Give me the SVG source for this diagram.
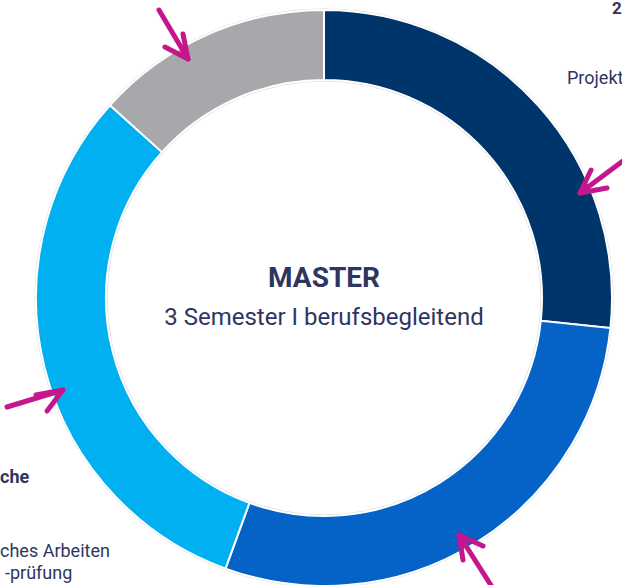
<svg xmlns="http://www.w3.org/2000/svg" width="622" height="585" viewBox="0 0 622 585">
<style>
.seg{stroke:#ffffff;stroke-width:2;stroke-linejoin:miter}
.outline{fill:none;stroke:#dcdcdc;stroke-width:1}
.t{font-family:Roboto,"Liberation Sans",sans-serif;fill:#2E3562}
.b{font-weight:bold}
.side{font-size:18px}
.arrow{fill:none;stroke:#C6168D;stroke-width:5;stroke-linecap:round;stroke-linejoin:round}
</style>
<rect width="622" height="585" fill="#ffffff"/>
<circle class="outline" cx="324" cy="298" r="289"/>
<circle class="outline" cx="324" cy="298" r="217"/>
<g id="seg-dark">
<path class="seg" fill="#00356B" d="M324,10 A288,288 0 0 1 610.42,328.10 L540.81,320.79 A218,218 0 0 0 324,80 Z"/>
</g>
<g id="seg-medium">
<path class="seg" fill="#0563C8" d="M610.42,328.10 A288,288 0 0 1 225.50,568.63 L249.44,502.85 A218,218 0 0 0 540.81,320.79 Z"/>
</g>
<g id="seg-light">
<path class="seg" fill="#00B0F0" d="M225.50,568.63 A288,288 0 0 1 109.98,105.29 L162.00,152.13 A218,218 0 0 0 249.44,502.85 Z"/>
</g>
<g id="seg-gray">
<path class="seg" fill="#A7A8AB" d="M109.98,105.29 A288,288 0 0 1 324,10 L324,80 A218,218 0 0 0 162.00,152.13 Z"/>
</g>
<g id="center">
<text class="t b" x="324" y="287" font-size="28" text-anchor="middle">MASTER</text>
<text class="t" x="324" y="325" font-size="24" text-anchor="middle">3 Semester I berufsbegleitend</text>
</g>
<g id="labels">
<text class="t b" x="612" y="13.5" font-size="17">2</text>
<text class="t side" x="567" y="84">Projekt</text>
<text class="t b side" x="0" y="483">che</text>
<text class="t side" x="0" y="557">ches Arbeiten</text>
<text class="t side" x="5" y="579">-prüfung</text>
</g>
<g id="connectors">
<polyline class="arrow" points="159,10 188,59"/>
<polyline class="arrow" points="183,34 188,59 165,47"/>
<polyline class="arrow" points="624,160 580,193"/>
<polyline class="arrow" points="591,170 580,193 607,188"/>
<polyline class="arrow" points="7,407 63,390"/>
<polyline class="arrow" points="36,395 63,390 47,411"/>
<polyline class="arrow" points="494,590 459,535"/>
<polyline class="arrow" points="483,546 459,535 463,560"/>
</g>
</svg>
